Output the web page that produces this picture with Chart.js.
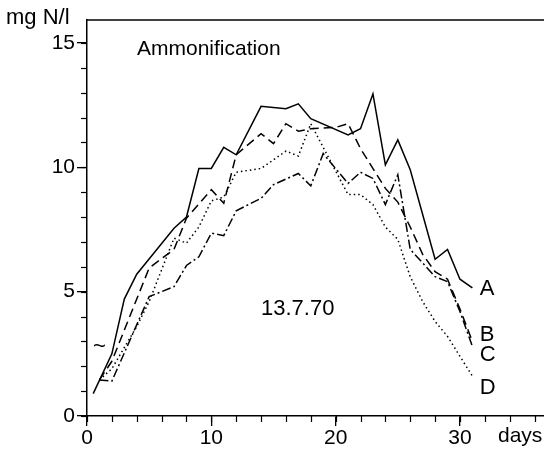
<!DOCTYPE html>
<html>
<head>
<meta charset="utf-8">
<script src="https://cdn.jsdelivr.net/npm/chart.js@4"></script>
<style>
html,body{margin:0;padding:0;background:#fff;}
#wrap{width:544px;height:452px;}
</style>
</head>
<body>
<div id="wrap"><canvas id="c" width="544" height="452"></canvas></div>
<script>
// ---- data (days, mg N/l) ----
const daysA = [0.5,2,3,4,7,8,9,10,11,12,14,16,17,18,21,22,23,24,25,26,28,29,30,31];
const valuesA = [0.9,2.5,4.7,5.7,7.55,8.0,9.95,9.95,10.8,10.5,12.45,12.35,12.55,11.95,11.3,11.55,12.95,10.1,11.1,9.9,6.3,6.7,5.5,5.15];

const daysB = [1,2,4,5,7,8,10,11,12,14,15,16,17,18,20,21,22,24,25,26,27,28,29,30,31];
const valuesB = [1.45,2.2,4.7,5.95,6.7,7.95,9.1,8.55,10.5,11.35,10.95,11.75,11.45,11.55,11.6,11.75,10.75,9.15,8.6,7.6,6.5,5.8,5.5,4.3,3.0];

const daysC = [1,2,5,7,8,9,10,11,12,14,15,17,18,19,21,22,23,24,25,26,28,29,30,31];
const valuesC = [1.45,1.4,4.8,5.2,6.05,6.4,7.35,7.25,8.25,8.75,9.3,9.75,9.25,10.55,9.35,9.8,9.55,8.5,9.7,6.7,5.6,5.4,4.2,2.8];

const daysD = [1,2,4,5,7,8,9,10,11,12,14,16,17,18,21,22,23,24,25,26,27,28,29,30,31];
const valuesD = [1.45,1.9,3.6,4.6,7.15,6.95,7.6,8.65,8.8,9.8,9.95,10.65,10.45,11.75,8.9,8.9,8.5,7.6,7.1,5.6,4.6,3.8,3.2,2.4,1.6];

const seriesNames = ['A','B','C','D'];
const xMajorTicks = [0,10,20,30];
const yMajorTicks = [0,5,10,15];
const xMinorStep = 2;
const yMinorStep = 1;

const FONT = '"Liberation Sans", Arial, Helvetica, sans-serif';

function pts(xs, ys){ return xs.map((x,i)=>({x:x, y:ys[i]})); }

const decor = {
  id:'decor',
  afterDraw(chart){
    const ctx = chart.ctx, xs = chart.scales.x, ys = chart.scales.y, ca = chart.chartArea;
    ctx.save();
    ctx.strokeStyle = '#000';
    ctx.lineWidth = 1.3;
    // top frame line
    ctx.beginPath();
    ctx.moveTo(ca.left, ca.top); ctx.lineTo(ca.right, ca.top);
    ctx.stroke();
    // minor ticks
    ctx.lineWidth = 1.2;
    for(let v=0; v<=xs.max; v+=xMinorStep){
      const px = Math.round(xs.getPixelForValue(v))+0.5;
      ctx.beginPath(); ctx.moveTo(px, ca.bottom); ctx.lineTo(px, ca.bottom+6); ctx.stroke();
    }
    for(let v=0; v<=ys.max; v+=yMinorStep){
      const py = Math.round(ys.getPixelForValue(v))+0.5;
      ctx.beginPath(); ctx.moveTo(ca.left, py); ctx.lineTo(ca.left-6, py); ctx.stroke();
    }
    // texts
    ctx.fillStyle = '#000';
    ctx.textBaseline = 'middle';
    ctx.textAlign = 'left';
    ctx.font = '22px ' + FONT;
    ctx.fillText('mg N/l', 6, 18);
    ctx.font = '21px ' + FONT;
    ctx.fillText('days', 498, 436);
    ctx.font = '21px ' + FONT;
    ctx.fillText('Ammonification', 137, 49);
    ctx.font = '22px ' + FONT;
    ctx.fillText('13.7.70', 261, 309);
    // series end labels
    ctx.font = '22px ' + FONT;
    const ends = [
      [valuesA[valuesA.length-1], 0],
      [valuesB[valuesB.length-1], 0.3],
      [valuesC[valuesC.length-1], -0.3],
      [valuesD[valuesD.length-1], -0.45]
    ];
    const lx = xs.getPixelForValue(31.6);
    seriesNames.forEach((n,i)=>{
      ctx.fillText(n, lx, ys.getPixelForValue(ends[i][0]+ends[i][1]) + 1);
    });
    ctx.font = '22px ' + FONT;
    ctx.fillText('~', 93, 347);
    ctx.restore();
  }
};

new Chart(document.getElementById('c'), {
  type:'line',
  data:{
    datasets:[
      {label:'A', data:pts(daysA,valuesA), borderColor:'#000', borderWidth:1.5, pointRadius:0, tension:0},
      {label:'B', data:pts(daysB,valuesB), borderColor:'#000', borderWidth:1.5, borderDash:[9,5], pointRadius:0, tension:0},
      {label:'C', data:pts(daysC,valuesC), borderColor:'#000', borderWidth:1.5, borderDash:[9,3,2,3], pointRadius:0, tension:0},
      {label:'D', data:pts(daysD,valuesD), borderColor:'#000', borderWidth:1.5, borderDash:[1.5,3], pointRadius:0, tension:0}
    ]
  },
  options:{
    responsive:false,
    animation:false,
    layout:{padding:{top:20,right:0,left:0,bottom:0}},
    plugins:{legend:{display:false}, tooltip:{enabled:false}},
    scales:{
      x:{
        type:'linear', min:0, max:36.76,
        afterBuildTicks(s){ s.ticks = xMajorTicks.map(v=>({value:v})); },
        afterFit(s){ s.height = 36; },
        ticks:{color:'#000', font:{size:21, family:FONT}, padding:0, maxRotation:0, autoSkip:false},
        grid:{display:true, drawOnChartArea:false, color:'#000', tickLength:10, lineWidth:1.3},
        border:{display:true, color:'#000', width:1.5}
      },
      y:{
        type:'linear', min:0, max:15.92,
        afterBuildTicks(s){ s.ticks = yMajorTicks.map(v=>({value:v})); },
        afterFit(s){ s.width = 87; },
        ticks:{color:'#000', font:{size:21, family:FONT}, padding:2, autoSkip:false},
        grid:{display:true, drawOnChartArea:false, color:'#000', tickLength:10, lineWidth:1.3},
        border:{display:true, color:'#000', width:1.5}
      }
    }
  },
  plugins:[decor]
});
</script>
</body>
</html>
